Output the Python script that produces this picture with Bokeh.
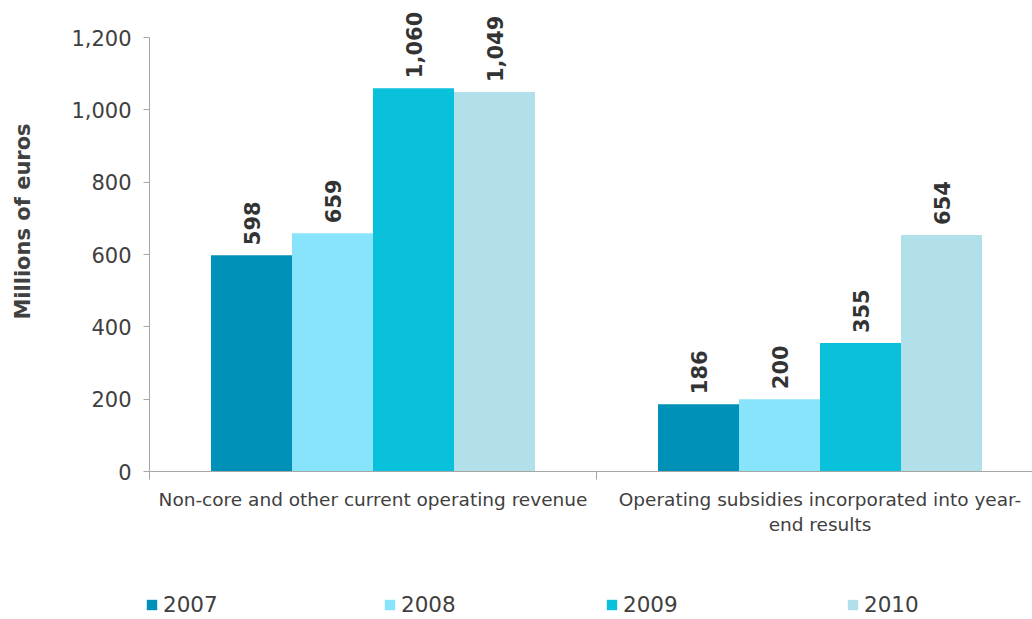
import math
from bokeh.plotting import figure
from bokeh.models import (FixedTicker, NumeralTickFormatter, Legend, LegendItem,
                          Range1d, ColumnDataSource, Label)
from bokeh.core.properties import value
from bokeh.embed import file_html
from bokeh.resources import INLINE

# ---- data ----
years = ["2007", "2008", "2009", "2010"]
categories = ["Non-core and other current operating revenue",
              "Operating subsidies incorporated into year-\nend results"]
values_2007 = [598, 186]
values_2008 = [659, 200]
values_2009 = [1060, 355]
values_2010 = [1049, 654]
series = [values_2007, values_2008, values_2009, values_2010]
colors = ["#0091B9", "#88E4FB", "#0AC1DB", "#B1DFEA"]
y_ticks = [0, 200, 400, 600, 800, 1000, 1200]
y_title = "Millions of euros"

FONT = "DejaVu Sans"
TXT = "#404040"
AX = "#A6A6A6"

# geometry (pixels): category width 447px, y axis at 149px, zero line at 471px
CAT_PX = 447.0
PX_PER_UNIT = 434.0 / 1200.0
bar_w = 81 / CAT_PX
x_start = -149 / CAT_PX
x_end = (1032 - 149) / CAT_PX
y_start = -(619 - 471) / PX_PER_UNIT
y_end = 471 / PX_PER_UNIT

p = figure(width=1032, height=619, x_range=Range1d(x_start, x_end),
           y_range=Range1d(y_start, y_end), output_backend="svg",
           toolbar_location=None, min_border=0,
           min_border_left=0, min_border_right=0,
           min_border_top=0, min_border_bottom=0)
p.outline_line_color = None
p.xgrid.visible = False
p.ygrid.visible = False
p.background_fill_color = "white"

renderers = []
for k, (yr, vals, col) in enumerate(zip(years, series, colors)):
    xs = [i + 0.5 + (k - 1.5) * bar_w for i in range(len(categories))]
    src = ColumnDataSource(dict(x=xs, top=vals,
                                lab=[f"{v:,}" for v in vals]))
    r = p.vbar(x="x", top="top", bottom=0, width=bar_w, source=src,
               fill_color=col, line_color=None)
    renderers.append(r)
    p.text(x="x", y="top", text="lab", source=src, angle=math.pi / 2,
           text_align="left", text_baseline="middle", y_offset=-10,
           text_font=value(FONT), text_font_style="bold",
           text_font_size="21px", text_color="#333333")

# y axis
ya = p.yaxis[0]
ya.fixed_location = 0
ya.ticker = FixedTicker(ticks=y_ticks, minor_ticks=[])
ya.formatter = NumeralTickFormatter(format="0,0")
ya.bounds = (0, 1200)
ya.axis_line_color = AX
ya.major_tick_line_color = AX
ya.major_tick_out = 6
ya.major_tick_in = 0
ya.minor_tick_line_color = None
ya.major_label_standoff = 12
ya.major_label_text_font = FONT
ya.major_label_text_font_size = "21px"
ya.major_label_text_color = TXT

# y axis title
p.add_layout(Label(x=22, y=619 - 221, x_units="screen", y_units="screen",
                   text=y_title, angle=math.pi / 2, text_align="center",
                   text_baseline="middle", text_font=FONT,
                   text_font_style="bold", text_font_size="21px",
                   text_color=TXT))

# x axis
xa = p.xaxis[0]
xa.fixed_location = 0
xa.bounds = (0, x_end)
xa.ticker = FixedTicker(ticks=[0.5, 1.5], minor_ticks=[0, 1, 2])
xa.major_label_overrides = {0.5: categories[0], 1.5: categories[1]}
xa.axis_line_color = AX
xa.major_tick_line_color = None
xa.major_tick_out = 0
xa.major_tick_in = 0
xa.minor_tick_line_color = AX
xa.minor_tick_out = 8
xa.minor_tick_in = 0
xa.major_label_standoff = 9
xa.major_label_text_font = FONT
xa.major_label_text_font_size = "18.5px"
xa.major_label_text_color = TXT

# legends
leg_x = [145, 383, 605, 846]
for yr, r, lx in zip(years, renderers, leg_x):
    leg = Legend(items=[LegendItem(label=yr, renderers=[r])],
                 location=(lx, 2), orientation="horizontal",
                 glyph_width=13, glyph_height=13, label_standoff=5,
                 label_height=13, padding=0, margin=0, border_line_alpha=0,
                 background_fill_alpha=0, label_text_font=FONT,
                 label_text_font_size="21.5px", label_text_color=TXT)
    p.add_layout(leg)

open("out.html", "w").write(file_html(p, INLINE))
